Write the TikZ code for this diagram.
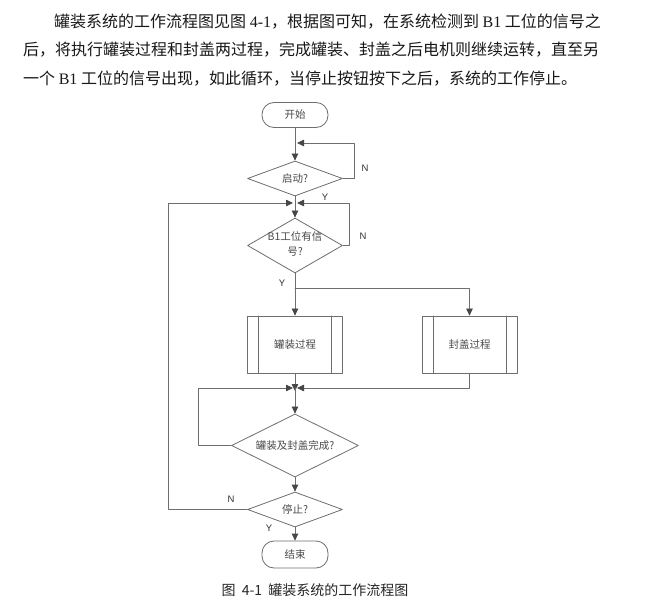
\documentclass[tikz,border=0pt]{standalone}
\usepackage{fontspec}
\setmainfont{Noto Sans CJK SC}
\newfontfamily\latinrm{Liberation Serif}
\newfontfamily\latinsf{Liberation Sans}
\usetikzlibrary{shapes.geometric,arrows.meta}
\definecolor{linegray}{HTML}{6E6E6E}
\definecolor{tipgray}{HTML}{474747}
\definecolor{boxtext}{HTML}{4A4A4A}
\newcommand{\dtext}[1]{\makebox[0pt]{#1}}

\begin{document}
\begin{tikzpicture}[x=1pt, y=-1pt, line join=round, line cap=round,
	>={Triangle[length=7pt,width=6.5pt,color=tipgray]},
	flow/.style={draw=linegray, line width=0.8pt},
	terminal/.style={flow, rounded corners=12pt, minimum width=66pt, minimum height=25pt, inner sep=0pt, text=boxtext, font=\fontsize{10.5}{12}\selectfont},
	decision/.style={flow, diamond, inner sep=0pt, text=boxtext, font=\fontsize{10.5}{15}\selectfont},
	process/.style={flow, rectangle, minimum width=95pt, minimum height=57pt, inner sep=0pt, text=boxtext, font=\fontsize{10.5}{12}\selectfont,
		path picture={\draw[linegray, line width=0.8pt]
			([xshift=11pt]path picture bounding box.north west) -- ([xshift=11pt]path picture bounding box.south west)
			([xshift=-11pt]path picture bounding box.north east) -- ([xshift=-11pt]path picture bounding box.south east);}},
	yn/.style={font=\latinsf\fontsize{9.5}{10}\selectfont, text=black!80, inner sep=0pt},
	para/.style={anchor=base west, inner sep=0pt, font=\fontsize{16}{20}\selectfont, text=black!90}]
	\fill[white] (0,0) rectangle (649,615);
	\useasboundingbox (0,0) rectangle (649,615);
	% text above the chart
	\node[para] (line1) at (54,27.5) {罐装系统的工作流程图见图 {\latinrm 4-1}，根据图可知，在系统检测到 {\latinrm B1} 工位的信号之};
	\node[para] (line2) at (23,56) {后，将执行罐装过程和封盖两过程，完成罐装、封盖之后电机则继续运转，直至另};
	\node[para] (line3) at (23,84.5) {一个 {\latinrm B1} 工位的信号出现，如此循环，当停止按钮按下之后，系统的工作停止。};
	% chart
	\node[terminal] (start) at (295,115) {开始};
	\node[decision, minimum width=95pt, minimum height=35pt] (qd) at (295,178.5) {\dtext{启动?}};
	\node[decision, minimum width=95pt, minimum height=55pt] (b1) at (295,245.5) {\dtext{\begin{tabular}{@{}c@{}}B1工位有信\\号?\end{tabular}}};
	\node[process] (fill) at (295,344.5) {罐装过程};
	\node[process] (cap) at (469.5,344.5) {封盖过程};
	\node[decision, minimum width=127pt, minimum height=63pt] (done) at (295,445.5) {\dtext{罐装及封盖完成?}};
	\node[decision, minimum width=95pt, minimum height=35pt] (stop) at (295,509.5) {\dtext{停止?}};
	\node[terminal, minimum height=27pt] (end) at (295,554.5) {结束};
	\coordinate (qret) at (295,143);
	\coordinate (bret) at (295,203);
	\coordinate (split) at (295,288);
	\coordinate (join) at (295,388);
	\draw[flow,->] (start) -- (qd);
	\draw[flow,->] (qd.east) -- ++(11,0) |- ([xshift=2pt]qret);
	\draw[flow,->] (qd) -- (b1);
	\draw[flow,->] (b1.east) -- ++(6,0) |- ([xshift=2pt]bret);
	\draw[flow,->] (stop.west) -- ++(-79,0) |- ([xshift=-2pt]bret);
	\draw[flow,->] (b1) -- (fill);
	\draw[flow,->] (split) -| (cap.north);
	\draw[flow,->] (fill) -- ([yshift=-3pt]join);
	\draw[flow,->] (cap.south) |- ([xshift=2pt]join);
	\draw[flow,->] (done.west) -- ++(-33,0) |- ([xshift=-2pt]join);
	\draw[flow,->] (join) -- (done);
	\draw[flow,->] (done) -- (stop);
	\draw[flow,->] (stop) -- (end);
	\node[yn] (qn) at (365,168) {N};
	\node[yn] (qy) at (325,197) {Y};
	\node[yn] (bn) at (363,236) {N};
	\node[yn] (by) at (282,283) {Y};
	\node[yn] (sn) at (231,499) {N};
	\node[yn] (sy) at (269,528) {Y};
	% caption
	\node[anchor=base, inner sep=0pt, font=\fontsize{14}{16}\selectfont, text=black!85] (caption) at (315,595.5) {图\hspace{3pt} 4-1\hspace{3pt} 罐装系统的工作流程图};
\end{tikzpicture}
\end{document}
